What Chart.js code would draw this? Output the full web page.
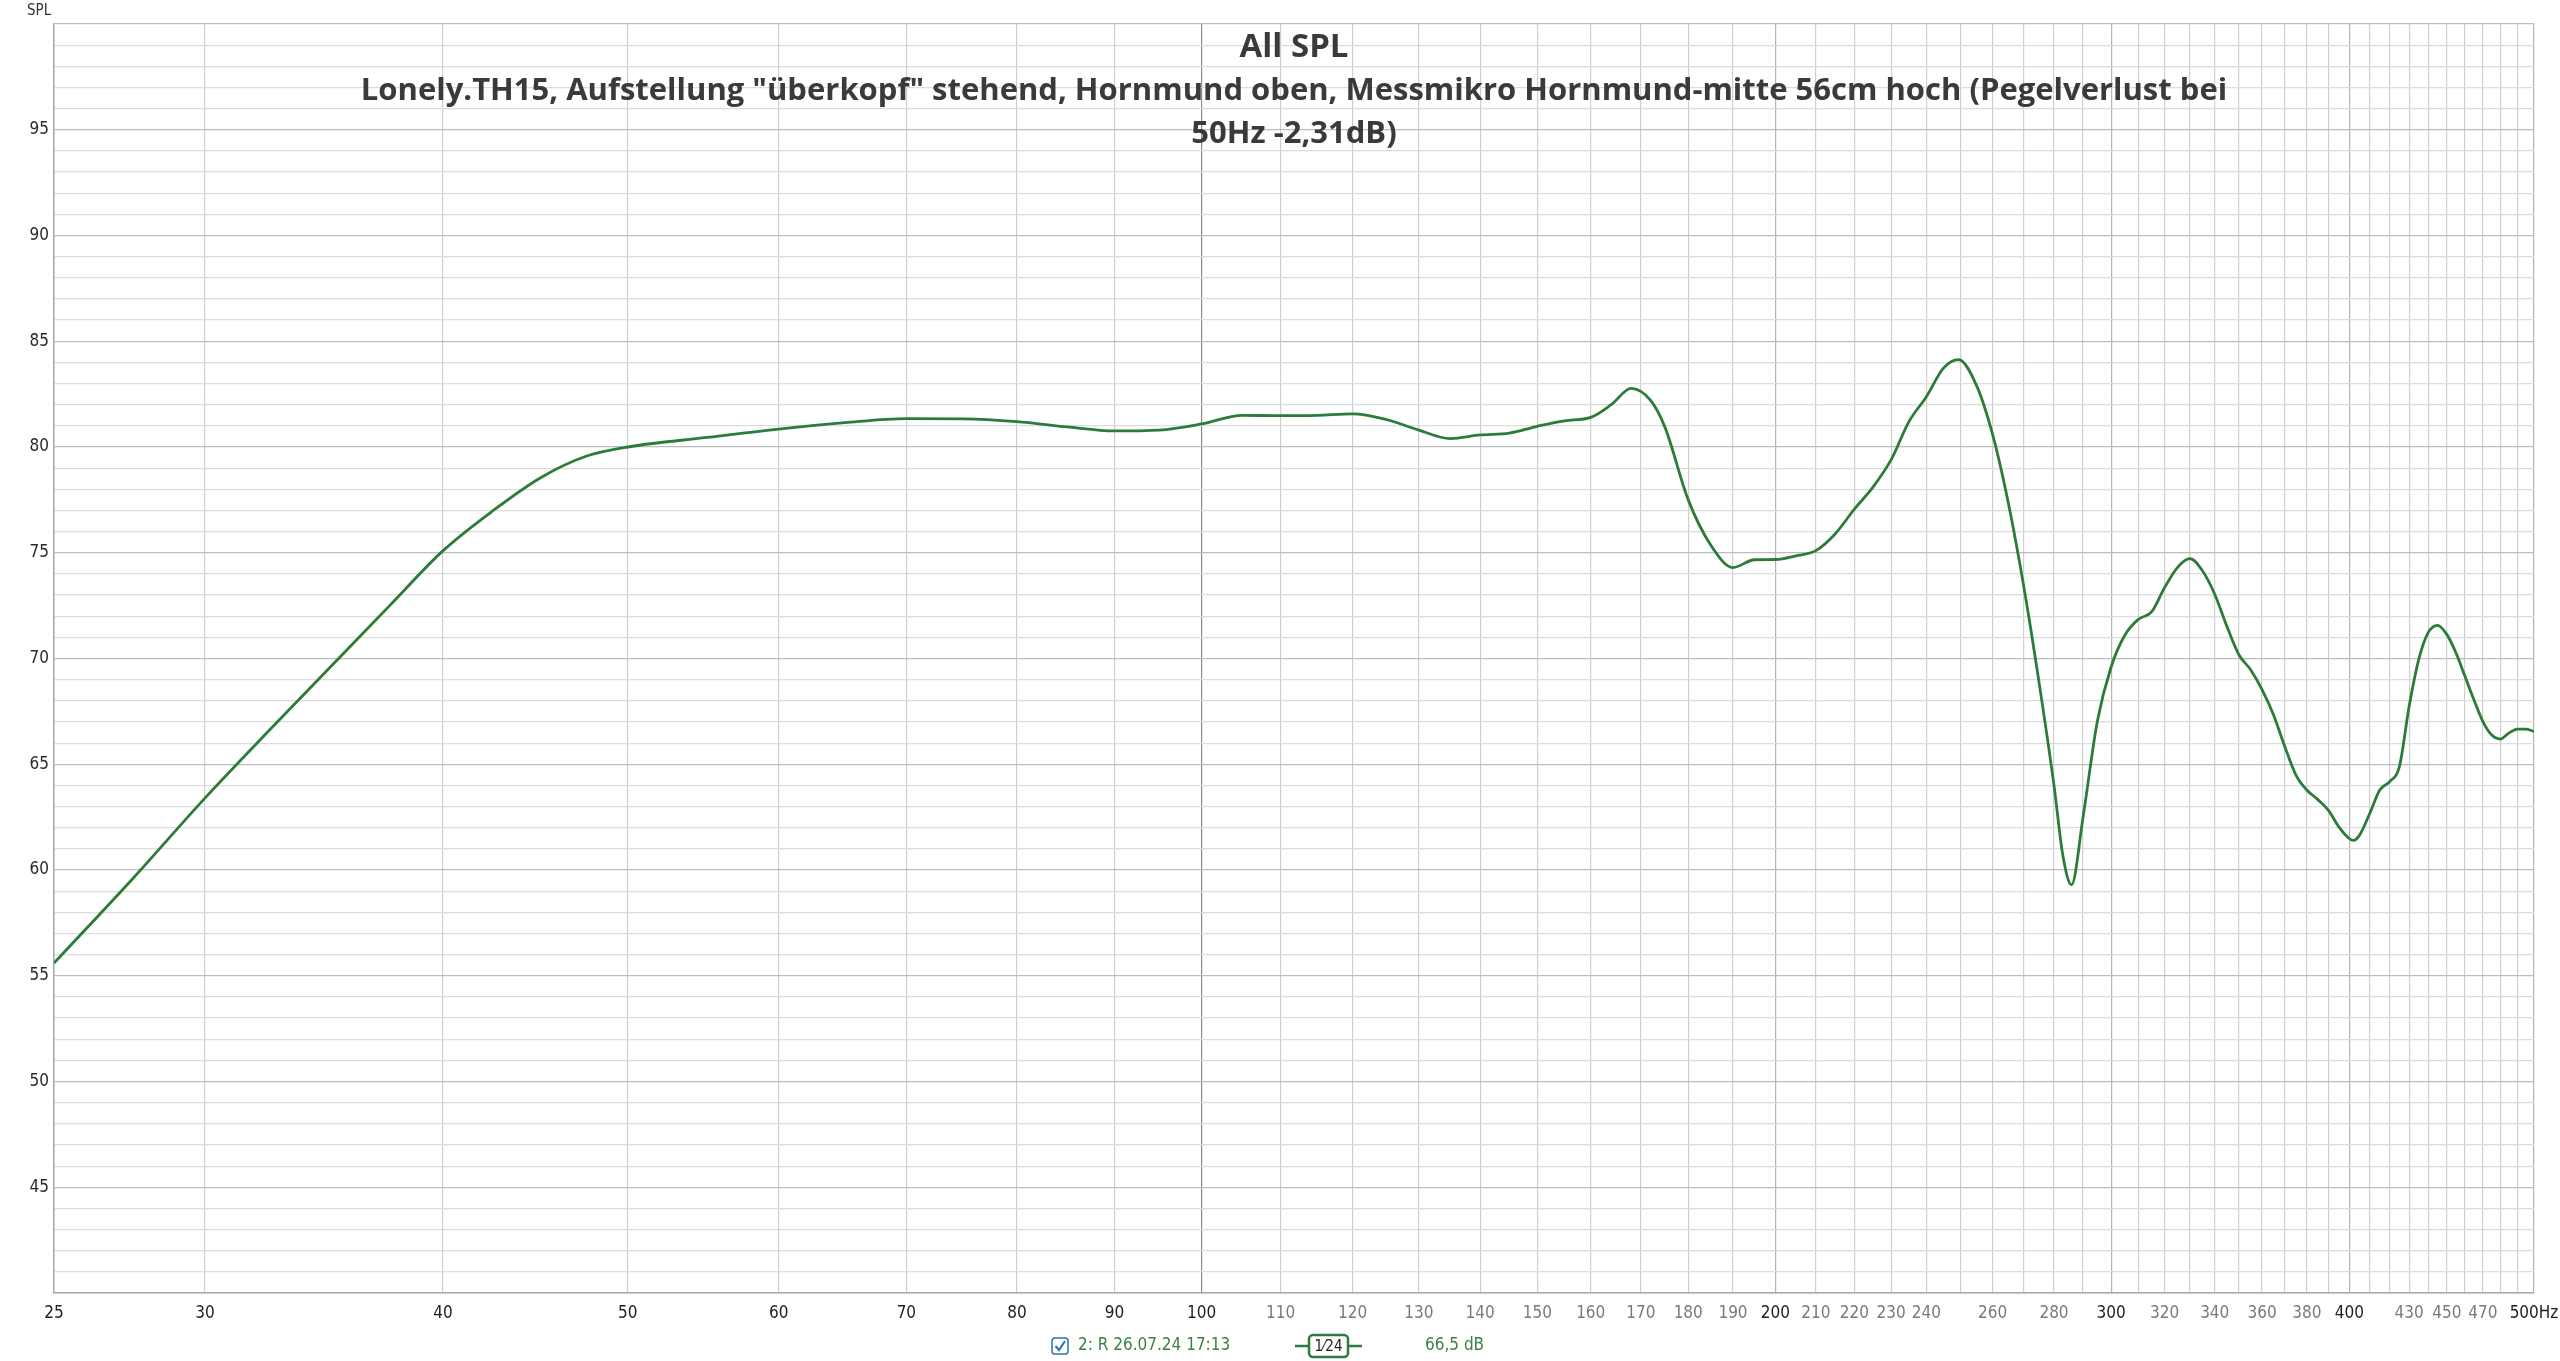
<!DOCTYPE html>
<html>
<head>
<meta charset="utf-8">
<script src="https://cdn.jsdelivr.net/npm/chart.js@4.4.1/dist/chart.umd.min.js"></script>
<style>
  html, body { margin: 0; padding: 0; background: #ffffff; }
  #wrap { width: 2560px; height: 1361px; }
</style>
</head>
<body>
<div id="wrap"><canvas id="splChart" width="2560" height="1361"></canvas></div>
<script>
const freqHz = [25, 27.5, 30, 32.5, 35, 37.5, 40, 42.5, 45, 47.5, 50, 55, 60, 65, 70, 75, 80, 85, 90, 95,
    100, 105, 110, 115, 120, 125, 130, 135, 140, 145, 150, 155, 160, 164, 168, 172, 175, 180, 185, 190, 195,
    200, 205, 210, 215, 220, 225, 230, 235, 240, 245, 249.5, 255, 260, 265, 270, 275, 280, 283, 286, 290, 295,
    300, 305, 310, 315, 320, 325, 330, 335, 340, 345, 350, 355, 360, 365, 370, 375, 380, 385, 390, 395,
    400, 402, 405, 410, 415, 420, 425, 430, 435, 440, 445, 450, 455, 460, 465, 470, 475, 480, 485, 490, 495, 500];
const splDb = [55.6, 59.6, 63.4, 66.7, 69.7, 72.5, 75.1, 77.0, 78.55, 79.55, 80.0, 80.45, 80.85, 81.15, 81.34, 81.33, 81.2, 80.95, 80.76, 80.8,
    81.09, 81.5, 81.48, 81.5, 81.57, 81.3, 80.8, 80.4, 80.57, 80.66, 80.98, 81.24, 81.4, 82.0, 82.77, 82.2, 80.94, 77.5, 75.35, 74.3, 74.67,
    74.68, 74.85, 75.1, 75.9, 77.06, 78.1, 79.4, 81.2, 82.38, 83.73, 84.13, 82.9, 80.58, 77.33, 73.37, 68.86, 64.0, 60.7, 59.3, 62.5, 67.0,
    69.6, 71.1, 71.85, 72.2, 73.35, 74.3, 74.72, 74.15, 73.04, 71.53, 70.19, 69.48, 68.53, 67.34, 65.84, 64.5, 63.78, 63.34, 62.83, 62.04,
    61.49, 61.4, 61.65, 62.67, 63.78, 64.18, 64.9, 67.74, 69.95, 71.22, 71.57, 71.14, 70.27, 69.16, 68.05, 67.03, 66.39, 66.19, 66.47, 66.66, 66.66, 66.55];

const xLabelTicks = [25, 30, 40, 50, 60, 70, 80, 90, 100, 110, 120, 130, 140, 150, 160, 170, 180, 190, 200,
    210, 220, 230, 240, 260, 280, 300, 320, 340, 360, 380, 400, 430, 450, 470, 500];
const yLabelTicks = [45, 50, 55, 60, 65, 70, 75, 80, 85, 90, 95];

const titleLines = [
    'All SPL',
    'Lonely.TH15, Aufstellung "überkopf" stehend, Hornmund oben, Messmikro Hornmund-mitte 56cm hoch (Pegelverlust bei',
    '50Hz -2,31dB)'
];
const legendName = '2: R 26.07.24 17:13';
const legendSmoothing = '1⁄24';
const legendLevel = '66,5 dB';

const curveGreen = '#2c7b3a';
const tickFont = '"Liberation Sans Narrow", "DejaVu Sans Condensed", "Noto Sans", sans-serif';

// vertical grid: 25 Hz plus every 10 Hz
const xGridHz = [25];
for (let f = 30; f <= 500; f += 10) xGridHz.push(f);
const yGridDb = [];
for (let d = 40; d <= 100; d++) yGridDb.push(d);

const overlayText = {
    id: 'overlayText',
    beforeDatasetsDraw(chart) {
        const {ctx, chartArea} = chart;
        const cx = (chartArea.left + chartArea.right) / 2;
        ctx.save();
        ctx.fillStyle = '#3a3a3a';
        ctx.textAlign = 'center';
        ctx.textBaseline = 'alphabetic';
        ctx.font = 'bold 33px "Open Sans", sans-serif';
        ctx.fillText(titleLines[0], cx, 57);
        ctx.font = 'bold 31px "Open Sans", sans-serif';
        ctx.fillText(titleLines[1], cx, 100);
        ctx.fillText(titleLines[2], cx, 143);
        ctx.restore();
    },
    afterDraw(chart) {
        const {ctx} = chart;
        ctx.save();
        // axis name
        ctx.fillStyle = '#333';
        ctx.font = '15px ' + tickFont;
        ctx.textAlign = 'left';
        ctx.textBaseline = 'middle';
        ctx.fillText('SPL', 27, 11);

        // legend row
        const ly = 1346;
        ctx.strokeStyle = '#2f6fb5';
        ctx.lineWidth = 1.5;
        ctx.fillStyle = '#ffffff';
        ctx.beginPath();
        ctx.roundRect(1052, ly - 8, 16, 16, 3);
        ctx.fill();
        ctx.stroke();
        ctx.lineWidth = 2;
        ctx.beginPath();
        ctx.moveTo(1055.5, ly);
        ctx.lineTo(1059, ly + 4);
        ctx.lineTo(1065, ly - 5);
        ctx.stroke();

        ctx.fillStyle = '#3d7f45';
        ctx.font = '17px ' + tickFont;
        ctx.fillText(legendName, 1078, ly);

        ctx.strokeStyle = curveGreen;
        ctx.lineWidth = 2.5;
        ctx.beginPath();
        ctx.moveTo(1295, ly);
        ctx.lineTo(1362, ly);
        ctx.stroke();
        ctx.fillStyle = '#ffffff';
        ctx.beginPath();
        ctx.roundRect(1309, ly - 11, 39, 22, 4);
        ctx.fill();
        ctx.stroke();
        ctx.fillStyle = '#222';
        ctx.font = '15px ' + tickFont;
        ctx.textAlign = 'center';
        ctx.fillText(legendSmoothing, 1328.5, ly + 1);

        ctx.fillStyle = '#3d7f45';
        ctx.font = '17px ' + tickFont;
        ctx.textAlign = 'left';
        ctx.fillText(legendLevel, 1425, ly);
        ctx.restore();
    }
};

const ctx = document.getElementById('splChart').getContext('2d');
window.splChart = new Chart(ctx, {
    type: 'line',
    data: {
        datasets: [{
            label: legendName,
            data: freqHz.map((f, i) => ({x: f, y: splDb[i]})),
            borderColor: curveGreen,
            borderWidth: 2.8,
            pointRadius: 0,
            fill: false,
            cubicInterpolationMode: 'monotone'
        }]
    },
    options: {
        responsive: false,
        devicePixelRatio: 1,
        animation: false,
        layout: { padding: { left: 0, top: 24, right: 26, bottom: 0 } },
        plugins: {
            legend: { display: false },
            title: { display: false },
            tooltip: { enabled: false }
        },
        scales: {
            x: {
                type: 'logarithmic',
                min: 25,
                max: 500,
                afterBuildTicks: (scale) => {
                    scale.ticks = xGridHz.map(v => ({value: v}));
                },
                afterFit: (scale) => {
                    scale.height = 68;
                    scale.paddingLeft = 0;
                    scale.paddingRight = 0;
                },
                border: { display: true, color: '#a8a8a8', width: 1.5 },
                grid: {
                    drawTicks: false,
                    lineWidth: 1.2,
                    color: (c) => {
                        const v = c.tick && c.tick.value;
                        if (v === 100) return '#8c8c8c';
                        if (v % 100 === 0) return '#b4b4b4';
                        return '#cfcfcf';
                    }
                },
                ticks: {
                    autoSkip: false,
                    maxRotation: 0,
                    padding: 10,
                    font: { family: tickFont, size: 17 },
                    color: (c) => {
                        const v = c.tick && c.tick.value;
                        return (v <= 100 || v % 100 === 0) ? '#1e1e1e' : '#7a7a7a';
                    },
                    callback: (value) => {
                        if (!xLabelTicks.includes(value)) return '';
                        return value === 500 ? '500Hz' : String(value);
                    }
                }
            },
            y: {
                type: 'linear',
                min: 40,
                max: 100,
                afterBuildTicks: (scale) => {
                    scale.ticks = yGridDb.map(v => ({value: v}));
                },
                afterFit: (scale) => {
                    scale.width = 54;
                    scale.paddingTop = 0;
                    scale.paddingBottom = 0;
                },
                border: { display: true, color: '#a8a8a8', width: 1.5 },
                grid: {
                    drawTicks: false,
                    lineWidth: 1.2,
                    color: (c) => (c.tick && c.tick.value % 5 === 0) ? '#bdbdbd' : '#dcdcdc'
                },
                ticks: {
                    autoSkip: false,
                    padding: 5,
                    font: { family: tickFont, size: 17 },
                    color: '#2a2a2a',
                    callback: (value) => yLabelTicks.includes(value) ? String(value) : ''
                }
            }
        }
    },
    plugins: [overlayText]
});
</script>
</body>
</html>
